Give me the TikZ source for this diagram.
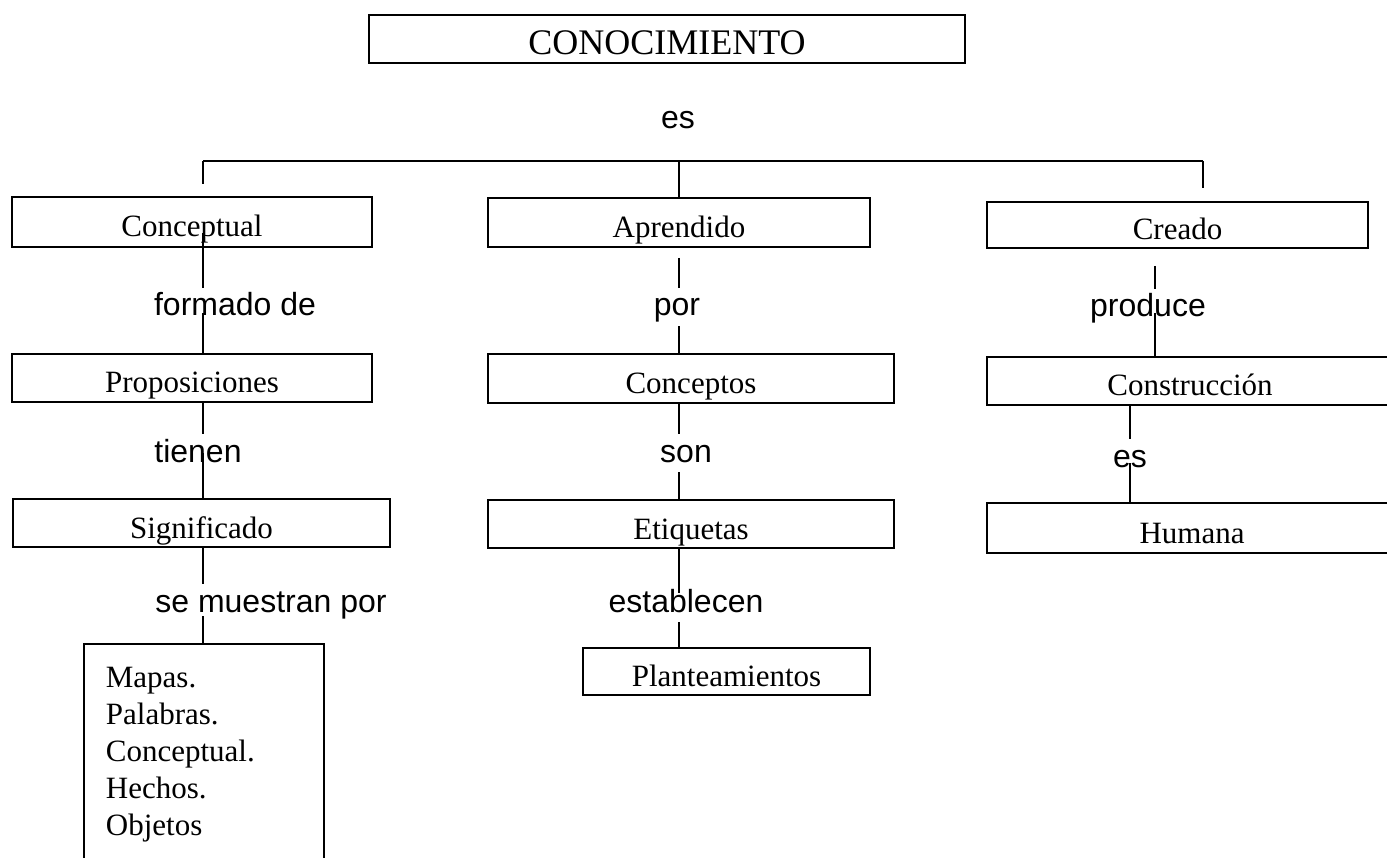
\documentclass[tikz,border=0pt]{standalone}
\usepackage{fontspec}
\setmainfont{Liberation Serif}
\setsansfont{Liberation Sans}
\usetikzlibrary{calc}

\begin{document}
\begin{tikzpicture}[x=1pt, y=-1pt, line width=1.8pt,
    recuadro/.style={draw, font=\fontsize{31}{37}\selectfont},
    caja/.style={recuadro, inner sep=0pt, text height=30pt, text depth=0pt},
    enlace/.style={font=\sffamily\fontsize{32}{38}\selectfont,
      text height=24pt, text depth=6pt}]
      \useasboundingbox (0,0) rectangle (1387,858);
      \node[caja, minimum width=596, minimum height=48, text height=32pt,
        font=\fontsize{36}{40}\selectfont] (cono) at (667,39) {CONOCIMIENTO};
      \node[enlace] (es0) at (678,120) {es};
      \coordinate (barL) at (203,161);
      \coordinate (barR) at (1203,161);
      \draw (barL) -- (barR);

      % primera fila
      \node[caja, minimum width=360, minimum height=50] (concep) at (192,222) {Conceptual};
      \node[caja, minimum width=382, minimum height=49] (aprend) at (679,222.5) {Aprendido};
      \node[caja, minimum width=381, minimum height=46] (creado) at (1177.5,225) {Creado};
      \draw (barL) -- ++(0,23);
      \draw (barL -| aprend.north) -- (aprend.north);
      \draw (barR) -- ++(0,27);

      \node[enlace] (formado) at (235,307) {formado de};
      \node[enlace] (por) at (677,307) {por};
      \node[enlace] (produce) at (1148,308) {produce};
      \coordinate (ejeC) at ($(produce.center)+(7,0)$);

      % segunda fila
      \node[caja, minimum width=360, minimum height=48] (propos) at (192,378) {Proposiciones};
      \node[caja, minimum width=406, minimum height=49] (concept) at (691,378.5) {Conceptos};
      \node[caja, minimum width=406, minimum height=48] (constr) at (1190,381) {Construcción};

      \node[enlace] (tienen) at (198,453) {tienen};
      \node[enlace] (son) at (686,453) {son};
      \node[enlace] (es1) at (1130,458) {es};

      % tercera fila
      \node[caja, minimum width=377, minimum height=48] (signif) at (201.5,523) {Significado};
      \node[caja, minimum width=406, minimum height=48] (etiq) at (691,524) {Etiquetas};
      \node[caja, minimum width=410, minimum height=50] (humana) at (1192,528) {Humana};

      \node[enlace] (muestran) at (271,603) {se muestran por};
      \node[enlace] (establ) at (686,603) {establecen};

      \node[caja, minimum width=287, minimum height=47] (plant) at (726.5,671.5) {Planteamientos};
      \node[recuadro, anchor=north west, align=left, text width=196pt,
        inner xsep=22pt, inner ysep=23pt, text depth=260pt] (mapas) at (83,643)
        {Mapas.\\Palabras.\\Conceptual.\\Hechos.\\Objetos};

      % columna izquierda
      \draw ($(concep.center -| barL)+(0,11)$) -- (formado.north -| barL);
      \draw ($(formado.center -| barL)+(0,6)$) -- (propos.north -| barL);
      \draw (propos.south -| barL) -- (tienen.north -| barL);
      \draw (tienen.center -| barL) -- (signif.north -| barL);
      \draw (signif.south -| barL) -- (muestran.north -| barL);
      \draw ($(muestran.south -| barL)+(0,-6)$) -- (mapas.north -| barL);

      % columna central
      \draw[shorten <=10pt] (aprend.south) -- (por.north -| aprend);
      \draw (por.south -| aprend) -- (concept.north -| aprend);
      \draw (concept.south -| aprend) -- (son.north -| aprend);
      \draw (son.south -| aprend) -- (etiq.north -| aprend);
      \draw (etiq.south -| aprend) -- ($(establ.center -| aprend)+(0,-10)$);
      \draw (establ.south -| aprend) -- (plant.north -| aprend);

      % columna derecha
      \draw[shorten <=17pt] (creado.south -| ejeC) -- (produce.north -| ejeC);
      \draw ($(produce.center -| ejeC)+(0,5)$) -- (constr.north -| ejeC);
      \draw (constr.south -| es1) -- (es1.north);
      \draw ($(es1.center)+(0,5)$) -- (humana.north -| es1);
\end{tikzpicture}
\end{document}
